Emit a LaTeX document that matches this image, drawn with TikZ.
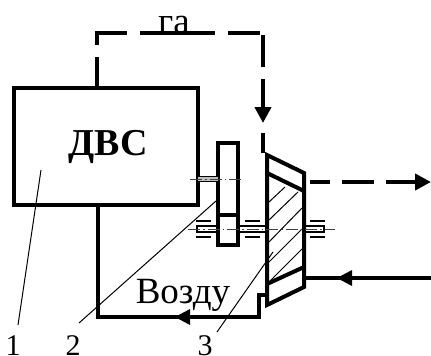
\documentclass[tikz,border=0pt]{standalone}
\usepackage{fontspec}
\setmainfont{Liberation Serif}
\usetikzlibrary{arrows.meta}
\tikzset{
  heavy/.style={line width=4pt,line cap=butt,line join=miter},
  thinline/.style={line width=1pt},
  axisline/.style={line width=0.9pt,black!75,dash pattern=on 12pt off 3pt on 1.5pt off 3pt},
  shaftline/.style={line width=1pt},
  shaftwall/.style={line width=1.8pt},
  bearing/.style={line width=2.2pt},
  headtip/.style={-{Triangle[length=16pt,width=16pt]}},
  lab/.style={inner sep=0pt,anchor=base,font=\fontsize{37}{37}\selectfont},
  numlab/.style={inner sep=0pt,anchor=base,font=\fontsize{30}{30}\selectfont}
}
\begin{document}
\begin{tikzpicture}[x=1pt,y=-1pt]
\useasboundingbox (0,0) rectangle (431,356);
% engine
\node[draw,heavy,inner sep=0pt,minimum width=184pt,minimum height=117pt] (dvs) at (106,146.5) {};
\node[inner sep=0pt,anchor=base,font=\bfseries\fontsize{38}{38}\selectfont] (dvsl) at (108,155) {ДВС};
% gas path
\coordinate (g0) at (97,88);
\coordinate (g1) at (97,33);
\coordinate (g2) at (263,33);
\coordinate (g3) at (263,123);
\draw[heavy] (g0) -- (97,57);
\draw[heavy] (97,45) -- (g1) -- (127,33);
\draw[heavy] (140,33) -- (215,33);
\draw[heavy] (228,33) -- (260,33);
\draw[heavy] (263,35) -- (263,67);
\draw[heavy,headtip] (263,79) -- (g3);
\draw[heavy] (263,133) -- (263,153);
\node[lab] (ga) at (174,33) {га};
% cone
\coordinate (c1) at (267,155);
\coordinate (c2) at (304,173);
\coordinate (c3) at (304,287);
\coordinate (c4) at (267,305);
\draw[heavy] (c1) -- (c2) -- (c3) -- (c4) -- cycle;
\draw[heavy] (267,173) -- (304,191);
\draw[heavy] (267,284) -- (304,267);
% hatch
\foreach \a/\b/\c/\d in {269/202/285/187,269/220/298/192,269/242/302/208,269/262/302/229,269/282/302/249}
  \draw[thinline] (\a,\b) -- (\c,\d);
% gear
\coordinate (ga1) at (218,143);
\coordinate (ga2) at (238,245);
\draw[heavy] (ga1) rectangle (ga2);
\draw[heavy] (218,215) -- (238,215);
% upper shaft
\draw[shaftline] (198,176.5) -- (218,176.5);
\draw[shaftline] (198,181.5) -- (218,181.5);
\fill[black!25] (198,177) rectangle (218,181);
\draw[axisline] (190,179) -- (241,179);
% lower shaft
\draw[shaftwall] (218,226) -- (197,226) -- (197,232) -- (218,232);
\draw[shaftwall] (238,226) -- (267,226);
\draw[shaftwall] (238,232) -- (267,232);
\draw[shaftwall] (304,226) -- (324,226) -- (324,232) -- (304,232);
\foreach \x in {196,245,310}{
  \draw[bearing] (\x,221) -- (\x+15,221);
  \draw[bearing] (\x,237) -- (\x+15,237);
}
\draw[axisline] (188,229) -- (335,229);
% air path
\coordinate (a0) at (431,278);
\coordinate (a1) at (304,278);
\draw[heavy] (a0) -- (a1);
\fill (337,278) -- (352,270) -- (352,286) -- cycle;
\coordinate (b0) at (267,295);
\coordinate (b1) at (259,295);
\coordinate (b2) at (259,317);
\coordinate (b3) at (98,317);
\coordinate (b4) at (98,205);
\draw[heavy] (b0) -- (b1) -- (b2) -- (b3) -- (b4);
\fill (175,317) -- (190,309) -- (190,325) -- cycle;
\node[lab] (air) at (183,303) {Возду};
% exhaust out
\draw[heavy] (310,182) -- (330,182);
\draw[heavy] (342,182) -- (374,182);
\draw[heavy,headtip] (386,182) -- (431,182);
% leaders
\node[numlab] (n1) at (13,355) {1};
\node[numlab] (n2) at (73,355) {2};
\node[numlab] (n3) at (205,355) {3};
\draw[thinline] (18,325) -- (41,170);
\draw[thinline] (79,323) -- (216,201);
\draw[thinline] (217,332) -- (273,252);
\end{tikzpicture}
\end{document}
